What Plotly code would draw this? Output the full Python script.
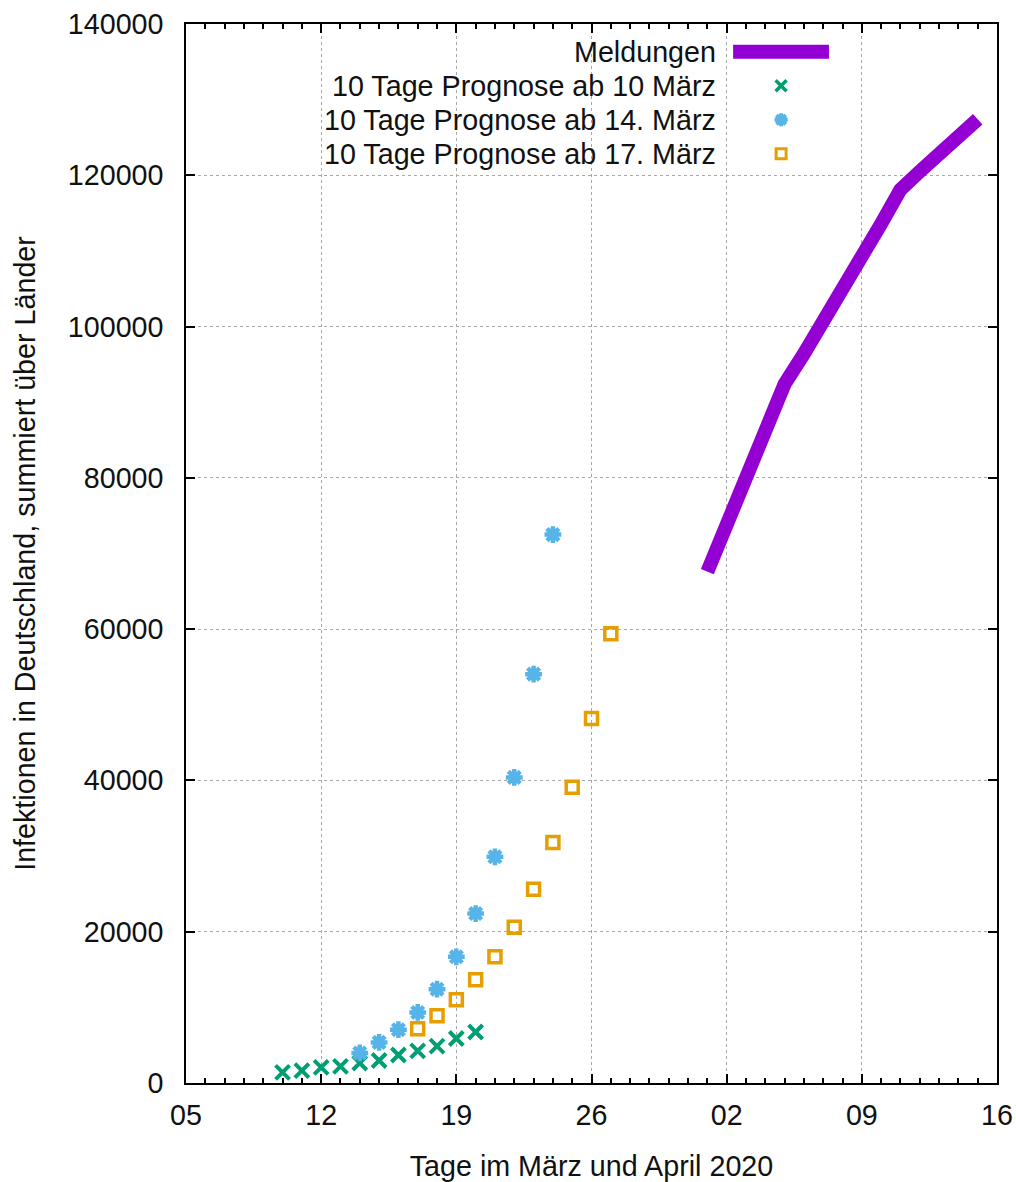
import plotly.graph_objects as go

# Reported cumulative infections (sum over German states), 1-15 April 2020
meld_dates = ["2020-04-01", "2020-04-02", "2020-04-03", "2020-04-04", "2020-04-05",
              "2020-04-06", "2020-04-07", "2020-04-08", "2020-04-09", "2020-04-10",
              "2020-04-11", "2020-04-12", "2020-04-13", "2020-04-14", "2020-04-15"]
meld_vals = [67600, 73600, 79800, 86000, 92400, 96400, 100500, 104500, 109300,
             113600, 118100, 120500, 122900, 125200, 127400]

# 10-day forecast starting 10 March
p10_dates = ["2020-03-10", "2020-03-11", "2020-03-12", "2020-03-13", "2020-03-14",
             "2020-03-15", "2020-03-16", "2020-03-17", "2020-03-18", "2020-03-19",
             "2020-03-20"]
p10_vals = [1400, 1630, 2070, 2200, 2640, 2970, 3700, 4250, 4880, 5880, 6740]

# 10-day forecast starting 14 March
p14_dates = ["2020-03-14", "2020-03-15", "2020-03-16", "2020-03-17", "2020-03-18",
             "2020-03-19", "2020-03-20", "2020-03-21", "2020-03-22", "2020-03-23",
             "2020-03-24"]
p14_vals = [3970, 5370, 7050, 9330, 12400, 16680, 22400, 29900, 40400, 54050, 72500]

# 10-day forecast starting 17 March
p17_dates = ["2020-03-17", "2020-03-18", "2020-03-19", "2020-03-20", "2020-03-21",
             "2020-03-22", "2020-03-23", "2020-03-24", "2020-03-25", "2020-03-26",
             "2020-03-27"]
p17_vals = [7180, 8900, 11000, 13650, 16700, 20600, 25600, 31800, 39100, 48200, 59400]

names = ["Meldungen", "10 Tage Prognose ab 10 März",
         "10 Tage Prognose ab 14. März", "10 Tage Prognose ab 17. März"]

y_ticks = [0, 20000, 40000, 60000, 80000, 100000, 120000, 140000]

PURPLE = "#9400d3"
GREEN = "#009e73"
BLUE = "#56b4e9"
ORANGE = "#e69f00"
FONT = "Liberation Sans, Arial, sans-serif"
FS = 28.7
TXT = "#111111"

fig = go.Figure()

fig.add_trace(go.Scatter(x=meld_dates, y=meld_vals, mode="lines",
                         line=dict(color=PURPLE, width=14), showlegend=False))


def marker_trace(xs, ys, symbol, color, size, lw, xa="x", ya="y"):
    return go.Scatter(x=xs, y=ys, mode="markers", xaxis=xa, yaxis=ya,
                      marker=dict(symbol=symbol, size=size, color=color,
                                  line=dict(color=color, width=lw)),
                      showlegend=False)


fig.add_trace(marker_trace(p10_dates, p10_vals, "x-thin", GREEN, 14, 4))
fig.add_trace(marker_trace(p14_dates, p14_vals, "asterisk", BLUE, 14, 4.5))
fig.add_trace(marker_trace(p17_dates, p17_vals, "square-open", ORANGE, 12, 3.5))

# Key at the upper right: right-aligned labels with samples to their right
key_rows = [0.9738, 0.9417, 0.9096, 0.8775]
key_text_x = 0.6565
key_sample_x = 0.7338
fig.add_trace(go.Scatter(x=[0.6746, 0.7928], y=[key_rows[0]] * 2, mode="lines",
                         line=dict(color=PURPLE, width=14), xaxis="x2", yaxis="y2",
                         showlegend=False, hoverinfo="skip"))
fig.add_trace(marker_trace([key_sample_x], [key_rows[1]], "x-thin", GREEN, 11, 3.5, "x2", "y2"))
fig.add_trace(marker_trace([key_sample_x], [key_rows[2]], "asterisk", BLUE, 11, 4, "x2", "y2"))
fig.add_trace(marker_trace([key_sample_x], [key_rows[3]], "square-open", ORANGE, 10, 3, "x2", "y2"))

annotations = []
for name, yy in zip(names, key_rows):
    annotations.append(dict(text=name, x=key_text_x, y=yy, xref="x2", yref="y2",
                            xanchor="right", yanchor="middle", showarrow=False,
                            font=dict(family=FONT, size=FS, color=TXT)))

axis_common = dict(showline=True, linecolor="black", linewidth=1.5, mirror="ticks",
                   ticks="inside", ticklen=9, tickwidth=1.5, tickcolor="black",
                   showgrid=True, gridcolor="#a8a8a8", gridwidth=1, griddash="3px,3px",
                   zeroline=False, automargin=False,
                   tickfont=dict(family=FONT, size=FS, color=TXT))

fig.update_layout(
    width=1016, height=1182,
    margin=dict(l=186, r=19, t=24, b=99, autoexpand=False),
    paper_bgcolor="white", plot_bgcolor="white",
    font=dict(family=FONT, size=FS, color=TXT),
    xaxis=dict(type="date", range=["2020-03-05", "2020-04-16"],
               tick0="2020-03-05", dtick=7 * 86400000, tickformat="%d",
               ticklabelstandoff=6,
               minor=dict(dtick=86400000, ticks="inside", ticklen=5, tickwidth=1.5,
                          tickcolor="black", showgrid=False),
               title=dict(text="Tage im März und April 2020", standoff=28,
                          font=dict(family=FONT, size=FS, color=TXT)),
               **axis_common),
    yaxis=dict(range=[0, 140000], tickvals=y_ticks, tickformat="d",
               ticklabelstandoff=15,
               title=dict(text="Infektionen in Deutschland, summiert über Länder",
                          standoff=24, font=dict(family=FONT, size=FS, color=TXT)),
               **axis_common),
    xaxis2=dict(overlaying="x", range=[0, 1], visible=False, fixedrange=True),
    yaxis2=dict(overlaying="y", range=[0, 1], visible=False, fixedrange=True),
    annotations=annotations,
)

fig.write_html("out.html")
